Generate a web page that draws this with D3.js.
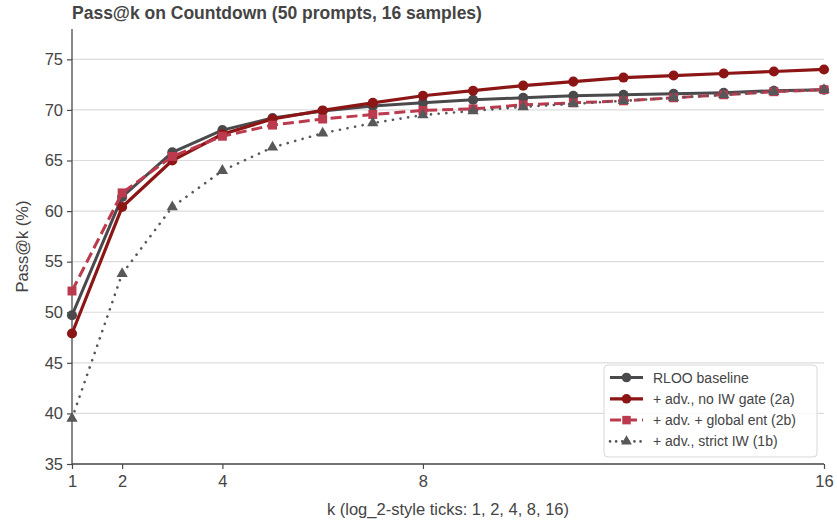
<!DOCTYPE html>
<html><head><meta charset="utf-8">
<script src="https://cdn.jsdelivr.net/npm/d3@7"></script>
<style>body{margin:0;background:#fff;} svg{display:block;font-family:"Liberation Sans",Arial,Helvetica,sans-serif;}</style>
</head><body><svg id="c" width="837" height="523"></svg>
<script>
const kValues = [1,2,3,4,5,6,7,8,9,10,11,12,13,14,15,16];
const rlooBaseline = [49.7,61.4,65.8,68.0,69.2,69.9,70.4,70.7,71.0,71.2,71.4,71.5,71.6,71.7,71.9,72.0];
const advNoGate   = [47.9,60.4,65.0,67.6,69.1,69.95,70.7,71.4,71.9,72.4,72.8,73.2,73.4,73.6,73.8,74.0];
const advGlobalEnt = [52.1,61.8,65.4,67.4,68.5,69.1,69.55,69.95,70.1,70.5,70.7,70.9,71.2,71.5,71.8,72.0];
const advStrictIW = [39.5,53.8,60.4,64.0,66.3,67.7,68.7,69.5,69.9,70.3,70.6,70.9,71.2,71.5,71.8,72.0];
const seriesNames = ["RLOO baseline","+ adv., no IW gate (2a)","+ adv. + global ent (2b)","+ adv., strict IW (1b)"];
const xTicks = [1,2,4,8,16];
const yTicks = [35,40,45,50,55,60,65,70,75];

const series = [
  {name:seriesNames[0], values:rlooBaseline, color:"#4a4a4d", width:3, dash:null, marker:"circle"},
  {name:seriesNames[1], values:advNoGate, color:"#8c1515", width:3.2, dash:null, marker:"circle"},
  {name:seriesNames[2], values:advGlobalEnt, color:"#bb3a4e", width:3, dash:"11,5", marker:"square"},
  {name:seriesNames[3], values:advStrictIW, color:"#58585b", width:2.6, dash:"0.1,7.6", marker:"triangle"}
];

const svg = d3.select("#c");
const m = {l:72, r:13, t:29, b:59};
const W = 837, H = 523;
const x = d3.scaleLinear().domain([1,16]).range([m.l, W-m.r]);
const y = d3.scaleLinear().domain([35,78]).range([H-m.b, m.t]);

// grid
svg.append("g").selectAll("line").data(yTicks).join("line")
  .attr("x1",m.l).attr("x2",W-m.r).attr("y1",d=>y(d)).attr("y2",d=>y(d))
  .attr("stroke","#dcdcdc").attr("stroke-width",1.2);

// axes
const xAxis = svg.append("g").attr("transform",`translate(0,${H-m.b})`)
  .call(d3.axisBottom(x).tickValues(xTicks).tickFormat(d3.format("d")).tickSizeOuter(0).tickSize(5).tickPadding(6));
const yAxis = svg.append("g").attr("transform",`translate(${m.l},0)`)
  .call(d3.axisLeft(y).tickValues(yTicks).tickSizeOuter(0).tickSize(5).tickPadding(4));
[xAxis,yAxis].forEach(a=>{
  a.select(".domain").attr("stroke","#4a4a4a").attr("stroke-width",1.3);
  a.selectAll(".tick line").attr("stroke","#4a4a4a").attr("stroke-width",1.2);
  a.selectAll(".tick text").attr("fill","#444").style("font-size","16.5px");
});
yAxis.select(".domain").attr("d",`M0,${y(35)}V${m.t}`);
xAxis.select(".domain").attr("d",`M${m.l},0H${W-m.r}`);

const sym = {circle:d3.symbolCircle, square:d3.symbolSquare, triangle:d3.symbolTriangle};
const symSize = {circle:80, square:80, triangle:55};

const line = d3.line().x((d,i)=>x(kValues[i])).y(d=>y(d));
series.forEach(s=>{
  svg.append("path").datum(s.values).attr("d",line).attr("fill","none")
    .attr("stroke",s.color).attr("stroke-width",s.width)
    .attr("stroke-dasharray",s.dash).attr("stroke-linecap",s.marker==="triangle"?"round":"butt")
    .attr("stroke-linejoin","round");
  svg.append("g").selectAll("path").data(s.values).join("path")
    .attr("transform",(d,i)=>`translate(${x(kValues[i])},${y(d)})`)
    .attr("d",d3.symbol().type(sym[s.marker]).size(symSize[s.marker]))
    .attr("fill",s.color);
});

// title
svg.append("text").attr("x",72).attr("y",19).text("Pass@k on Countdown (50 prompts, 16 samples)")
  .attr("fill","#444").style("font-size","17.5px").style("font-weight","bold");
// axis labels
svg.append("text").attr("x",(m.l+W-m.r)/2).attr("y",515).attr("text-anchor","middle")
  .text("k (log_2-style ticks: 1, 2, 4, 8, 16)").attr("fill","#444").style("font-size","16.5px");
svg.append("text").attr("transform",`translate(28,${(m.t+H-m.b)/2}) rotate(-90)`).attr("text-anchor","middle")
  .text("Pass@k (%)").attr("fill","#444").style("font-size","16.5px");

// legend
const lg = svg.append("g").attr("transform","translate(604,365)");
lg.append("rect").attr("width",213).attr("height",92).attr("rx",4)
  .attr("fill","#fff").attr("fill-opacity",0.85).attr("stroke","#d8d8d8");
series.forEach((s,i)=>{
  const yy = 12.5 + i*21.3;
  const g = lg.append("g").attr("transform",`translate(0,${yy})`);
  g.append("line").attr("x1",6).attr("x2",39).attr("y1",0).attr("y2",0)
    .attr("stroke",s.color).attr("stroke-width",s.width)
    .attr("stroke-dasharray",s.marker==="triangle"?"0.1,6":s.dash).attr("stroke-linecap",s.marker==="triangle"?"round":"butt");
  g.append("path").attr("transform","translate(22.5,0)")
    .attr("d",d3.symbol().type(sym[s.marker]).size(symSize[s.marker]*0.9)).attr("fill",s.color);
  g.append("text").attr("x",49).attr("y",5).text(s.name).attr("fill","#444").style("font-size","14px");
});
</script></body></html>
